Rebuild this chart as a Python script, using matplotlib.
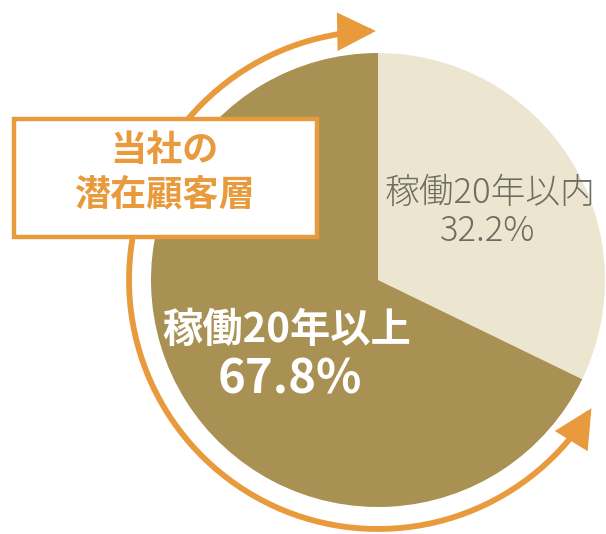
import numpy as np
import matplotlib
matplotlib.use("Agg")
import matplotlib.pyplot as plt
from matplotlib.patches import FancyArrowPatch, Rectangle
from matplotlib.path import Path

plt.rcParams['font.family'] = ['Noto Sans CJK JP', 'DejaVu Sans']

# data
labels = ["稼働20年以内", "稼働20年以上"]
shares = [32.2, 67.8]
colors = ["#ECE5CF", "#A89152"]
box_title = ["当社の", "潜在顧客層"]
orange = "#E89A3C"

W, H = 606, 534
fig = plt.figure(figsize=(W / 100, H / 100), dpi=100)
ax = fig.add_axes([0, 0, 1, 1])

cx, cy, r = 378, 254, 227
ax.pie(shares, colors=colors, startangle=90, counterclock=False,
       center=(cx, cy), radius=r, frame=True,
       wedgeprops=dict(linewidth=0))
ax.set_xlim(0, W)
ax.set_ylim(0, H)
ax.set_aspect('equal')
ax.axis('off')

# orange arc with arrows at both ends
ra = 249
th = np.radians(np.linspace(90.5, 329, 200))
verts = np.column_stack([cx + ra * np.cos(th), cy + ra * np.sin(th)])
arc = FancyArrowPatch(path=Path(verts),
                      arrowstyle="<|-|>,head_length=1.5,head_width=0.75",
                      mutation_scale=14, color=orange, lw=4.2,
                      joinstyle='miter', zorder=3)
ax.add_patch(arc)

# label box
ax.add_patch(Rectangle((14, H - 237), 303, 118, facecolor="white",
                       edgecolor=orange, lw=3.2, zorder=4))
ax.text(164, H - 150, box_title[0], color=orange, fontsize=26, fontweight='bold',
        ha='center', va='center', zorder=5)
ax.text(164, H - 195, box_title[1], color=orange, fontsize=26, fontweight='bold',
        ha='center', va='center', zorder=5)

# slice labels
ax.text(490, H - 193, labels[0], color="#6E6C62", fontsize=25, fontweight='light',
        ha='center', va='center', zorder=5)
ax.text(488, H - 231, "{:.1f}%".format(shares[0]), color="#6E6C62", fontsize=25,
        fontweight='light', ha='center', va='center', zorder=5)
ax.text(287, H - 330, labels[1], color="white", fontsize=29, fontweight='bold',
        ha='center', va='center', zorder=5)
ax.text(290, H - 380, "{:.1f}%".format(shares[1]), color="white", fontsize=34,
        fontweight='bold', ha='center', va='center', zorder=5)

fig.savefig("out.png", dpi=100, facecolor="white")
